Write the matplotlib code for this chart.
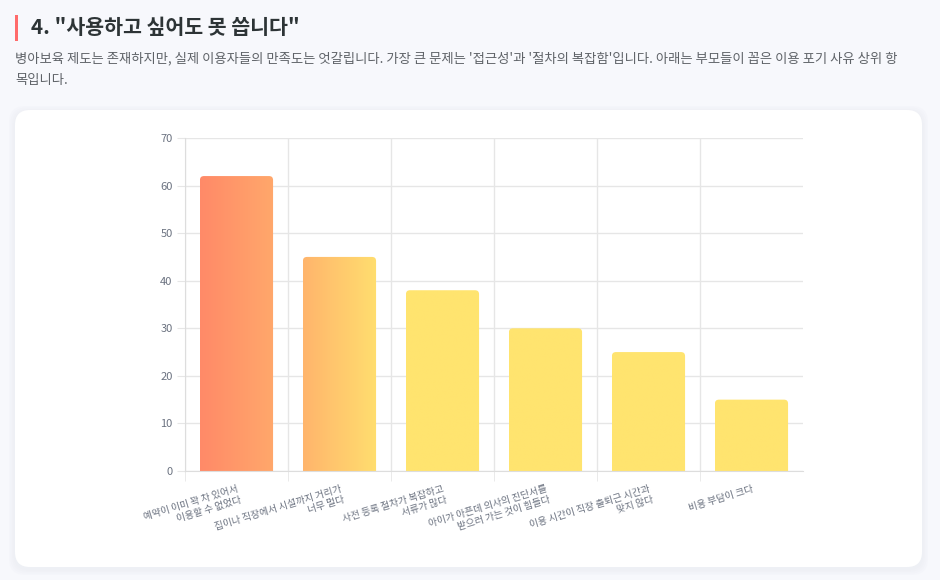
import numpy as np
import matplotlib
matplotlib.use("Agg")
import matplotlib.pyplot as plt
import matplotlib.colors as mcolors
from matplotlib.patches import FancyBboxPatch, Rectangle

plt.rcParams['font.family'] = ['Noto Sans CJK KR', 'DejaVu Sans']

# data
reasons = [
    "예약이 이미 꽉 차 있어서\n이용할 수 없었다",
    "집이나 직장에서 시설까지 거리가\n너무 멀다",
    "사전 등록 절차가 복잡하고\n서류가 많다",
    "아이가 아픈데 의사의 진단서를\n받으러 가는 것이 힘들다",
    "이용 시간이 직장 출퇴근 시간과\n맞지 않다",
    "비용 부담이 크다",
]
counts = [62, 45, 38, 30, 25, 15]
y_ticks = [0, 10, 20, 30, 40, 50, 60, 70]

title = '4. "사용하고 싶어도 못 씁니다"'
subtitle_lines = [
    "병아보육 제도는 존재하지만, 실제 이용자들의 만족도는 엇갈립니다. 가장 큰 문제는 '접근성'과 "
    "'절차의 복잡함'입니다. 아래는 부모들이 꼽은 이용 포기 사유 상위 항",
    "목입니다.",
]

W, H = 940, 580
BG = '#f7f8fc'
GRID = '#e6e6e6'
TICK = '#6b7280'

fig = plt.figure(figsize=(W / 100, H / 100), dpi=100, facecolor=BG)

# card with soft shadow (inches)
for i, a in enumerate([0.025, 0.02, 0.015, 0.01]):
    g = (4 - i) * 0.015
    fig.patches.append(FancyBboxPatch(
        (0.15 - g, 0.13 - g - 0.02), 9.07 + 2 * g, 4.57 + 2 * g,
        boxstyle="round,pad=0,rounding_size=0.16", transform=fig.dpi_scale_trans,
        facecolor='#9aa0b4', edgecolor='none', alpha=a, zorder=-3))
fig.patches.append(FancyBboxPatch(
    (0.15, 0.13), 9.07, 4.57, boxstyle="round,pad=0,rounding_size=0.15",
    transform=fig.dpi_scale_trans, facecolor='white', edgecolor='none', zorder=-2))

# heading
fig.patches.append(Rectangle((0.15, (H - 41) / 100), 0.03, 0.26,
                             transform=fig.dpi_scale_trans, facecolor='#ff6b6b',
                             edgecolor='none'))
fig.text(31 / W, 1 - 28 / H, title, fontsize=14.8, fontweight='bold',
         color='#2d3436', va='center', ha='left')
for k, line in enumerate(subtitle_lines):
    fig.text(15 / W, 1 - (58 + 22 * k) / H, line, fontsize=9.6,
             color='#5f6368', va='center', ha='left')

ax = fig.add_axes([185 / W, (H - 471) / H, (803 - 185) / W, 333 / H])
ax.set_facecolor('none')

x = np.arange(len(reasons))
bars = ax.bar(x, counts, width=0.71, color='none', edgecolor='none')

# horizontal gradient coral -> yellow across the chart
grad = mcolors.LinearSegmentedColormap.from_list('g', ['#ff8a68', '#ffb06c', '#ffe46f'])
g0, g1 = -0.354, 1.47
rx = 4 / 103.0
ry = 4 / (333 / 70.0)
for rect in bars:
    left, w, h = rect.get_x(), rect.get_width(), rect.get_height()
    clip = FancyBboxPatch((left, -3), w, h + 3,
                          boxstyle=f"round,pad=0,rounding_size={rx}",
                          mutation_aspect=ry / rx, facecolor='none',
                          edgecolor='none')
    ax.add_patch(clip)
    xs = np.linspace(left, left + w, 64)
    t = np.clip((xs - g0) / (g1 - g0), 0, 1)[None, :]
    im = ax.imshow(t, extent=[left, left + w, 0, h], aspect='auto', cmap=grad,
                   vmin=0, vmax=1, zorder=2, interpolation='bilinear')
    im.set_clip_path(clip)

ax.set_xlim(-0.5, len(reasons) - 0.5)
ax.set_ylim(0, 70)
ax.set_yticks(y_ticks)
ax.set_xticks(x)
ax.set_xticklabels(reasons, rotation=17, ha='right', va='top',
                   rotation_mode='anchor', multialignment='right')
ax.set_xticks(np.arange(-0.5, len(reasons) - 1), minor=True)

ax.set_axisbelow(True)
ax.grid(axis='y', color=GRID, linewidth=1)
ax.grid(axis='x', which='minor', color=GRID, linewidth=1)
ax.tick_params(axis='y', length=6, color=GRID, labelcolor=TICK, labelsize=8, pad=3)
ax.tick_params(axis='x', which='major', length=0, labelcolor=TICK, labelsize=7, pad=9)
ax.tick_params(axis='x', which='minor', length=7, color=GRID)
for s in ['top', 'right']:
    ax.spines[s].set_visible(False)
for s in ['left', 'bottom']:
    ax.spines[s].set_color('#dddddd')

fig.savefig('out.png', dpi=100, facecolor=BG)
